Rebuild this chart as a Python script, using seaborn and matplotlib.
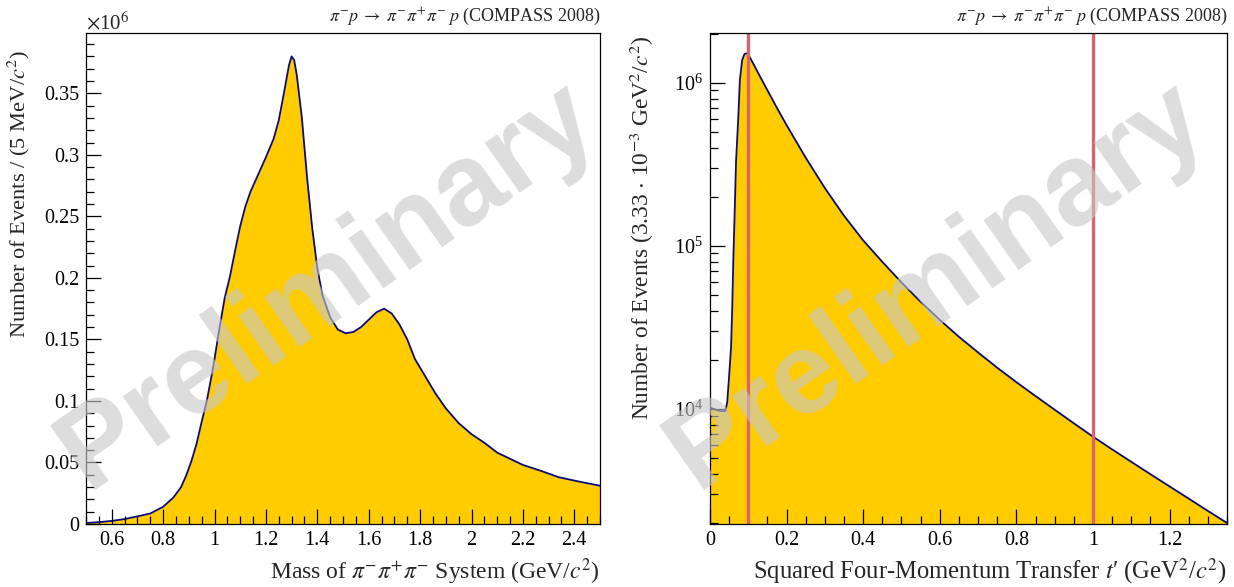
import numpy as np
import pandas as pd
import matplotlib
matplotlib.use("Agg")
import matplotlib.pyplot as plt
import matplotlib.ticker as mticker
import seaborn as sns

# ---------------- data ----------------
mass = [0.50, 0.55, 0.60, 0.65, 0.70, 0.75, 0.80, 0.84, 0.87, 0.89, 0.91, 0.93,
        0.95, 0.97, 0.99, 1.00, 1.02, 1.04, 1.06, 1.08, 1.10, 1.12, 1.14, 1.17,
        1.20, 1.23, 1.25, 1.27, 1.29, 1.30, 1.31, 1.32, 1.34, 1.36, 1.38, 1.40,
        1.42, 1.45, 1.48, 1.51, 1.54, 1.57, 1.60, 1.63, 1.66, 1.69, 1.72, 1.75,
        1.78, 1.82, 1.86, 1.90, 1.95, 2.00, 2.05, 2.10, 2.15, 2.20, 2.27, 2.34,
        2.42, 2.50]
mass_counts_1e6 = [0.0008, 0.0015, 0.0025, 0.0040, 0.0062, 0.0085, 0.0140, 0.0215,
                   0.030, 0.0395, 0.051, 0.065, 0.083, 0.100, 0.122, 0.134, 0.160,
                   0.184, 0.201, 0.222, 0.242, 0.258, 0.270, 0.284, 0.298, 0.313,
                   0.328, 0.350, 0.373, 0.380, 0.377, 0.365, 0.330, 0.282, 0.241,
                   0.208, 0.186, 0.168, 0.158, 0.155, 0.156, 0.160, 0.166, 0.172,
                   0.175, 0.171, 0.162, 0.150, 0.134, 0.120, 0.106, 0.094, 0.082,
                   0.073, 0.066, 0.058, 0.053, 0.048, 0.0432, 0.038, 0.0344, 0.0311]

tprime = [0.000, 0.010, 0.020, 0.030, 0.040, 0.045, 0.050, 0.055, 0.058, 0.061,
          0.065, 0.068, 0.074, 0.078, 0.084, 0.090, 0.097, 0.105, 0.113, 0.130,
          0.150, 0.175, 0.200, 0.250, 0.300, 0.350, 0.400, 0.450, 0.500, 0.550,
          0.600, 0.650, 0.700, 0.750, 0.800, 0.850, 0.900, 0.950, 1.000, 1.050,
          1.100, 1.150, 1.200, 1.250, 1.300, 1.350]
tprime_counts = [1.02e4, 1.00e4, 9.8e3, 9.7e3, 9.7e3, 1.1e4, 1.6e4, 2.4e4, 4.1e4,
                 8.4e4, 1.8e5, 3.3e5, 6.2e5, 1.04e6, 1.38e6, 1.50e6, 1.52e6, 1.42e6,
                 1.31e6, 1.10e6, 9.0e5, 7.0e5, 5.50e5, 3.47e5, 2.26e5, 1.53e5, 1.08e5,
                 7.98e4, 5.97e4, 4.54e4, 3.52e4, 2.77e4, 2.22e4, 1.79e4, 1.46e4, 1.20e4,
                 9.89e3, 8.17e3, 6.76e3, 5.65e3, 4.74e3, 3.98e3, 3.35e3, 2.82e3, 2.37e3,
                 2.00e3]

tprime_cuts = [0.1, 1.0]

header = r"$\pi^{-}p \;\rightarrow\; \pi^{-}\pi^{+}\pi^{-}\; p$ (COMPASS 2008)"
left_xlabel = r"Mass of $\pi^{-}\pi^{+}\pi^{-}$ System (GeV/$c^{2}$)"
left_ylabel = r"Number of Events / (5 MeV/$c^{2}$)"
right_xlabel = r"Squared Four-Momentum Transfer $t$′ (GeV$^{2}$/$c^{2}$)"
right_ylabel = r"Number of Events (3.33 $\cdot$ 10$^{-3}$ GeV$^{2}$/$c^{2}$)"
watermark = "Preliminary"

# ---------------- style ----------------
sns.set_style("ticks")
plt.rcParams["font.family"] = ["Liberation Serif", "DejaVu Serif"]
plt.rcParams["mathtext.fontset"] = "stix"
plt.rcParams["axes.linewidth"] = 0.9
plt.rcParams["axes.axisbelow"] = False

FILL = "#ffcc00"
EDGE = "#0a0a78"
CUT = "#d8646c"

fig = plt.figure(figsize=(12.34, 5.87), dpi=100)
axL = fig.add_axes([86 / 1234, 1 - 524 / 587, 514 / 1234, 491 / 587])
axR = fig.add_axes([710 / 1234, 1 - 524 / 587, 517 / 1234, 491 / 587])

dfL = pd.DataFrame({"mass": mass, "counts": mass_counts_1e6})
dfR = pd.DataFrame({"t": tprime, "counts": tprime_counts})

# left panel
axL.fill_between(dfL["mass"], 0, dfL["counts"], color=FILL, lw=0, zorder=1)
sns.lineplot(data=dfL, x="mass", y="counts", ax=axL, color=EDGE, lw=1.3, zorder=2)
axL.set_xlim(0.5, 2.5)
axL.set_ylim(0, 0.399)

# right panel
axR.set_yscale("log")
axR.fill_between(dfR["t"], 1e3, dfR["counts"], color=FILL, lw=0, zorder=1)
sns.lineplot(data=dfR, x="t", y="counts", ax=axR, color=EDGE, lw=1.3, zorder=2)
for c in tprime_cuts:
    axR.axvline(c, color=CUT, lw=2.4, zorder=3)
axR.set_xlim(0, 1.35)
axR.set_ylim(1.97e3, 2.02e6)

fmt = mticker.FuncFormatter(lambda v, p: "%g" % round(v, 6))
for ax in (axL, axR):
    ax.set_axisbelow(False)
    ax.tick_params(which="both", direction="in", top=False, right=False,
                   labelsize=14.5, width=0.9, colors="black")
    ax.tick_params(which="major", length=11, pad=5)
    ax.tick_params(which="minor", length=5.5)
    ax.xaxis.set_major_formatter(fmt)
    for s in ax.spines.values():
        s.set_visible(True)
        s.set_color("black")
        s.set_zorder(4)

axL.xaxis.set_major_locator(mticker.MultipleLocator(0.2))
axL.xaxis.set_minor_locator(mticker.MultipleLocator(0.05))
axL.yaxis.set_major_locator(mticker.MultipleLocator(0.05))
axL.yaxis.set_minor_locator(mticker.MultipleLocator(0.01))
axL.yaxis.set_major_formatter(fmt)

axR.xaxis.set_major_locator(mticker.MultipleLocator(0.2))
axR.xaxis.set_minor_locator(mticker.MultipleLocator(0.05))
axR.yaxis.set_major_locator(mticker.LogLocator(base=10))
axR.yaxis.set_minor_locator(mticker.LogLocator(base=10, subs=np.arange(2, 10)))
axR.yaxis.set_minor_formatter(mticker.NullFormatter())
axR.yaxis.set_major_formatter(mticker.LogFormatterMathtext())

axL.set_xlabel(left_xlabel, fontsize=17, loc="right")
axL.set_ylabel(left_ylabel, fontsize=16.2, loc="top")
axR.set_xlabel(right_xlabel, fontsize=17.7, loc="right")
axR.set_ylabel(right_ylabel, fontsize=16.8, loc="top")
axL.xaxis.set_label_coords(1.0, -0.066)
axR.xaxis.set_label_coords(1.0, -0.066)
axL.yaxis.set_label_coords(-0.105, 0.965)
axR.yaxis.set_label_coords(-0.104, 0.995)

fig.text(601 / 1234, 1 - 21 / 587, header, ha="right", va="baseline", fontsize=13)
fig.text(1228 / 1234, 1 - 21 / 587, header, ha="right", va="baseline", fontsize=13)
fig.text(86 / 1234, 1 - 29 / 587, r"$\times$10$^{6}$", ha="left", va="baseline", fontsize=15)

for cx in (0.265, 0.759):
    fig.text(cx, 0.514, watermark, rotation=35, fontsize=83, fontweight="bold",
             family="Liberation Sans", color="#c8c8c8", alpha=0.62,
             ha="center", va="center", rotation_mode="anchor", zorder=10)

fig.savefig("out.png", dpi=100)
